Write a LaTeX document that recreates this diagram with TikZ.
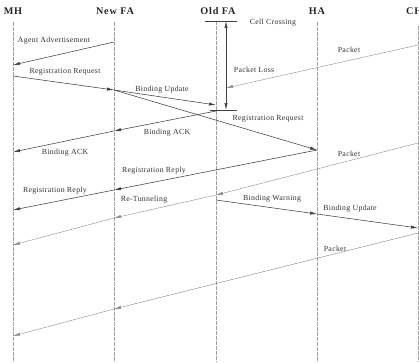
\documentclass[tikz,border=0pt]{standalone}
\usepackage{fontspec}
\setmainfont{Liberation Serif}
\newfontfamily\lblfont[LetterSpace=4]{Liberation Serif}
\newfontfamily\hdrfont[LetterSpace=8]{Liberation Serif}
\usetikzlibrary{arrows.meta}
\tikzset{
	lifeline/.style={draw=gray!75, thin, dash pattern=on 4pt off 1pt},
	msg/.style={draw=black!75, line width=0.55pt, -{Latex[length=7pt,width=3.2pt]}},
	pkt/.style={draw=gray!90, thin, -{Latex[length=7pt,width=3.2pt]}},
	lbl/.style={black!80, inner sep=0pt, font=\lblfont\fontsize{7.8}{9}\selectfont},
	hdr/.style={black!85, inner sep=0pt, font=\hdrfont\fontsize{10.2}{12}\selectfont\bfseries},
}
\begin{document}
\begin{tikzpicture}[x=1pt, y=-1pt]
	\useasboundingbox (0,0) rectangle (419,362);
	% entities
	\node[hdr] (mh) at (13,11) {MH};
	\node[hdr] (nfa) at (115,11) {New FA};
	\node[hdr] (ofa) at (218,11) {Old FA};
	\node[hdr] (ha) at (317,11) {HA};
	\node[hdr, anchor=west] (ch) at (406,11) {CH};
	\draw[lifeline] (13,22) -- (13,362);
	\draw[lifeline] (114,22) -- (114,362);
	\draw[lifeline] (216,21) -- (216,362);
	\draw[lifeline] (317,22) -- (317,362);
	\draw[lifeline] (418,26) -- (418,362);
	% cell crossing
	\coordinate (cc1) at (226,21);
	\coordinate (cc2) at (226,110);
	\draw[draw=black!75, thin] (205,21) -- (237,21);
	\draw[draw=black!75, thin] (210,110) -- (237,110);
	\draw[draw=black!75, line width=0.55pt, {Latex[length=7pt,width=3.2pt]}-{Latex[length=7pt,width=3.2pt]}] (cc1) -- (cc2);
	% message end points
	\coordinate (aa1) at (114,42);  \coordinate (aa2) at (13,65);
	\coordinate (rr1) at (13,76);   \coordinate (rr2) at (114,90);
	\coordinate (bu1) at (216,105); \coordinate (rq1) at (317,150);
	\coordinate (pk1) at (418,45);  \coordinate (pk1e) at (226,88);
	\coordinate (ack1) at (216,111); \coordinate (ack2) at (114,131); \coordinate (ack3) at (13,152);
	\coordinate (rp2) at (114,190); \coordinate (rp3) at (13,210);
	\coordinate (pk2) at (418,143); \coordinate (pk2e) at (216,195);
	\coordinate (rt2) at (114,218); \coordinate (rt3) at (13,245);
	\coordinate (bw1) at (216,200); \coordinate (bw2) at (317,214); \coordinate (bu2) at (418,228);
	\coordinate (pk3) at (418,233); \coordinate (pk3b) at (114,309); \coordinate (pk3c) at (13,336);
	% messages
	\draw[msg] (aa1) -- (aa2);
	\draw[msg] (rr1) -- (rr2);
	\draw[msg] (rr2) -- (bu1);
	\draw[msg] (rr2) -- (rq1);
	\draw[pkt] (pk1) -- (pk1e);
	\draw[msg] (ack1) -- (ack2);
	\draw[msg] (ack2) -- (ack3);
	\draw[msg] (rq1) -- (rp2);
	\draw[msg] (rp2) -- (rp3);
	\draw[pkt] (pk2) -- (pk2e);
	\draw[pkt] (pk2e) -- (rt2);
	\draw[pkt] (rt2) -- (rt3);
	\draw[msg] (bw1) -- (bw2);
	\draw[msg] (bw2) -- (bu2);
	\draw[pkt] (pk3) -- (pk3b);
	\draw[pkt] (pk3b) -- (pk3c);
	% labels
	\node[lbl] (l1) at (54,41) {Agent Advertisement};
	\node[lbl] (l2) at (65,72) {Registration Request};
	\node[lbl] (l3) at (162,90) {Binding Update};
	\node[lbl] (l4) at (273,23) {Cell Crossing};
	\node[lbl] (l5) at (349,50) {Packet};
	\node[lbl] (l6) at (254,70) {Packet Loss};
	\node[lbl] (l7) at (268,119) {Registration Request};
	\node[lbl] (l8) at (167,133) {Binding ACK};
	\node[lbl] (l9) at (65,153) {Binding ACK};
	\node[lbl] (l10) at (349,154) {Packet};
	\node[lbl] (l11) at (154,171) {Registration Reply};
	\node[lbl] (l12) at (55,191) {Registration Reply};
	\node[lbl] (l13) at (144,200) {Re-Tunneling};
	\node[lbl] (l14) at (272,199) {Binding Warning};
	\node[lbl] (l15) at (350,209) {Binding Update};
	\node[lbl] (l16) at (335,249) {Packet};
\end{tikzpicture}
\end{document}
